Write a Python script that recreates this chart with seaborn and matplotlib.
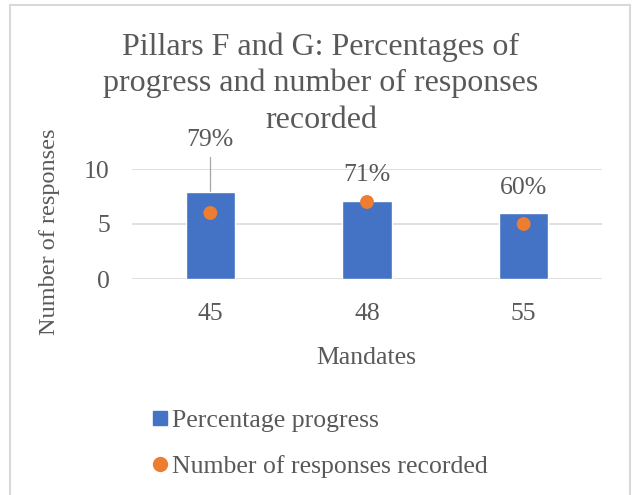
import matplotlib
matplotlib.use("Agg")
import matplotlib.pyplot as plt
from matplotlib.patches import Rectangle
from matplotlib.lines import Line2D
import pandas as pd
import seaborn as sns

# ── data ─────────────────────────────────────────────
mandates = ["45", "48", "55"]
progress_pct = [79, 71, 60]
responses = [6, 7, 5]
title_lines = ["Pillars F and G: Percentages of",
               "progress and number of responses",
               "recorded"]

TEXT = "#595959"
BLUE = "#4472C4"
ORANGE = "#ED7D31"
GRID = "#D9D9D9"

sns.set_theme(style="white")
plt.rcParams["font.family"] = ["Liberation Serif", "DejaVu Serif"]

df = pd.DataFrame({
    "Mandates": mandates,
    "progress": [p / 10 for p in progress_pct],
    "responses": responses,
})

fig = plt.figure(figsize=(6.32, 4.95), dpi=100)
W, H = 632, 495
ax = fig.add_axes([132 / W, 1 - 279 / H, 470 / W, 110 / H])

sns.barplot(data=df, x="Mandates", y="progress", color=BLUE, width=0.313,
            saturation=1, ax=ax, zorder=2)
sns.scatterplot(data=df, x="Mandates", y="responses", color=ORANGE, s=100,
                edgecolor="none", ax=ax, zorder=3)

ax.set_ylim(0, 10)
ax.set_xlim(-0.5, 2.5)
ax.set_yticks([0, 5, 10])
ax.yaxis.grid(True, color=GRID, linewidth=1.2, zorder=0)
ax.set_axisbelow(True)
for s in ax.spines.values():
    s.set_visible(False)
ax.tick_params(axis="x", length=0, pad=17, labelsize=18.5, labelcolor=TEXT)
ax.tick_params(axis="y", length=0, pad=16, labelsize=18.5, labelcolor=TEXT)
ax.set_xlabel("")
ax.set_ylabel("")

# data labels (percentages), label positions in data units
label_y = [12.6, 9.45, 8.27]
for i, (p, ly) in enumerate(zip(progress_pct, label_y)):
    ax.text(i, ly, f"{p}%", ha="center", va="center", fontsize=18.5,
            color=TEXT, clip_on=False)
# leader line for the first label
ax.plot([0, 0], [progress_pct[0] / 10, 11.1], color="#A6A6A6", lw=0.9,
        clip_on=False, zorder=1)

# title, one text per line (Excel-style wrapped title)
for line, y_px in zip(title_lines, [47, 83, 120]):
    fig.text(321 / W, 1 - y_px / H, line, ha="center", va="center",
             fontsize=23, color=TEXT)
fig.text(366 / W, 1 - 358 / H, "Mandates", ha="center", va="center",
         fontsize=18.5, color=TEXT)
fig.text(50 / W, 1 - 232 / H, "Number of responses", ha="center", va="center",
         rotation=90, fontsize=17.5, color=TEXT)

handles = [
    Line2D([], [], marker="s", linestyle="none", color=BLUE, markersize=10),
    Line2D([], [], marker="o", linestyle="none", color=ORANGE, markersize=10),
]
fig.legend(handles, ["Percentage progress", "Number of responses recorded"],
           loc="center left", bbox_to_anchor=(153 / W, 1 - 443.5 / H),
           frameon=False, fontsize=18.5, labelcolor=TEXT, borderpad=0,
           borderaxespad=0, handlelength=0.55, handletextpad=0.2,
           labelspacing=0.87)

fig.patches.append(Rectangle((10 / W, -0.02), 620 / W, 1 - 5 / H + 0.02,
                             transform=fig.transFigure, fill=False,
                             edgecolor=GRID, linewidth=1.5))

fig.savefig("out.png", dpi=100)
